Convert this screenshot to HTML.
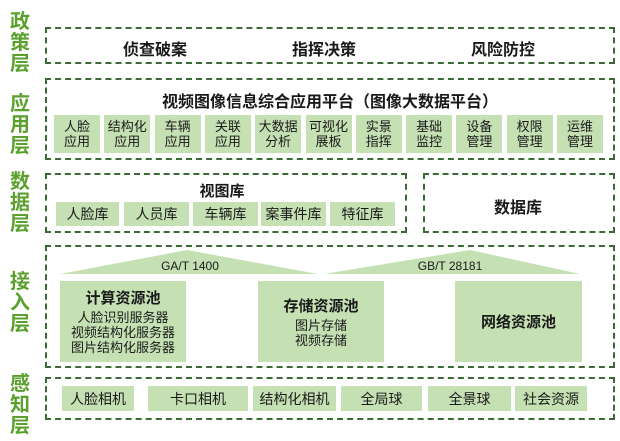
<!DOCTYPE html>
<html><head><meta charset="utf-8"><style>
*{margin:0;padding:0;box-sizing:border-box}
body{width:620px;height:441px;background:#fff;position:relative;overflow:hidden;font-family:"Liberation Sans","Noto Sans CJK SC",sans-serif;color:#1a1a1a}
.a{position:absolute}
.d{position:absolute;border:2px dashed #3b6b35}
.lab{position:absolute;left:9px;width:22px;font-size:20px;line-height:21px;font-weight:bold;color:#5aa02c;text-align:center}
.g{position:absolute;background:#c5e0b3;display:flex;align-items:center;justify-content:center;text-align:center}
.s{font-size:13px;line-height:15px}
.t{position:absolute;font-weight:bold;font-size:16px;transform:translateX(-50%);white-space:nowrap}
</style></head><body>
<div class="lab" style="top:12px">政<br>策<br>层</div>
<div class="lab" style="top:94px">应<br>用<br>层</div>
<div class="lab" style="top:172px">数<br>据<br>层</div>
<div class="lab" style="top:272px">接<br>入<br>层</div>
<div class="lab" style="top:374px">感<br>知<br>层</div>

<div class="d" style="left:45px;top:27px;width:570px;height:37px"></div>
<div class="t" style="left:155px;top:36px">侦查破案</div>
<div class="t" style="left:324px;top:36px">指挥决策</div>
<div class="t" style="left:503px;top:36px">风险防控</div>

<div class="d" style="left:45px;top:78px;width:570px;height:82px"></div>
<div class="t" style="left:330px;top:88px">视频图像信息综合应用平台（图像大数据平台）</div>
<div id="apps"></div>

<div class="d" style="left:45px;top:173px;width:362px;height:60px"></div>
<div class="t" style="left:222px;top:180px;font-size:15px">视图库</div>
<div class="g" style="left:56px;top:202px;width:63px;height:24px;font-size:14px">人脸库</div>
<div class="g" style="left:124px;top:202px;width:65px;height:24px;font-size:14px">人员库</div>
<div class="g" style="left:193px;top:202px;width:65px;height:24px;font-size:14px">车辆库</div>
<div class="g" style="left:261px;top:202px;width:65px;height:24px;font-size:14px">案事件库</div>
<div class="g" style="left:330px;top:202px;width:65px;height:24px;font-size:14px">特征库</div>
<div class="d" style="left:423px;top:173px;width:192px;height:60px"></div>
<div class="t" style="left:518px;top:194px">数据库</div>

<div class="d" style="left:45px;top:245px;width:570px;height:123px"></div>
<svg class="a" style="left:0;top:0" width="620" height="441">
<polygon points="60,274 187,250 318,274" fill="#c5e0b3"/>
<polygon points="324,274 470,250 580,274" fill="#c5e0b3"/>
<text x="190" y="270" font-size="12" text-anchor="middle" font-family="Liberation Sans" fill="#1a1a1a">GA/T 1400</text>
<text x="450" y="270" font-size="12" text-anchor="middle" font-family="Liberation Sans" fill="#1a1a1a">GB/T 28181</text>
</svg>
<div class="g" style="left:60px;top:281px;width:126px;height:81px;flex-direction:column"><b style="font-size:15px;line-height:22px">计算资源池</b><span class="s">人脸识别服务器<br>视频结构化服务器<br>图片结构化服务器</span></div>
<div class="g" style="left:258px;top:281px;width:126px;height:81px;flex-direction:column"><b style="font-size:15px;line-height:22px">存储资源池</b><span class="s">图片存储<br>视频存储</span></div>
<div class="g" style="left:455px;top:281px;width:127px;height:81px"><b style="font-size:15px">网络资源池</b></div>

<div class="d" style="left:45px;top:377px;width:570px;height:43px"></div>
<div class="g" style="left:62px;top:386px;width:72px;height:25px;font-size:14px">人脸相机</div>
<div class="g" style="left:148px;top:386px;width:100px;height:25px;font-size:14px">卡口相机</div>
<div class="g" style="left:253px;top:386px;width:83px;height:25px;font-size:14px">结构化相机</div>
<div class="g" style="left:341px;top:386px;width:81px;height:25px;font-size:14px">全局球</div>
<div class="g" style="left:428px;top:386px;width:83px;height:25px;font-size:14px">全景球</div>
<div class="g" style="left:515px;top:386px;width:72px;height:25px;font-size:14px">社会资源</div>
<script>
var n=[["人脸","应用"],["结构化","应用"],["车辆","应用"],["关联","应用"],["大数据","分析"],["可视化","展板"],["实景","指挥"],["基础","监控"],["设备","管理"],["权限","管理"],["运维","管理"]];
var h="";for(var i=0;i<11;i++){h+='<div class="g s" style="left:'+(54+i*50.3)+'px;top:115px;width:46px;height:38px;font-size:13px">'+n[i][0]+'<br>'+n[i][1]+'</div>';}
document.getElementById("apps").outerHTML=h;
</script>
</body></html>
